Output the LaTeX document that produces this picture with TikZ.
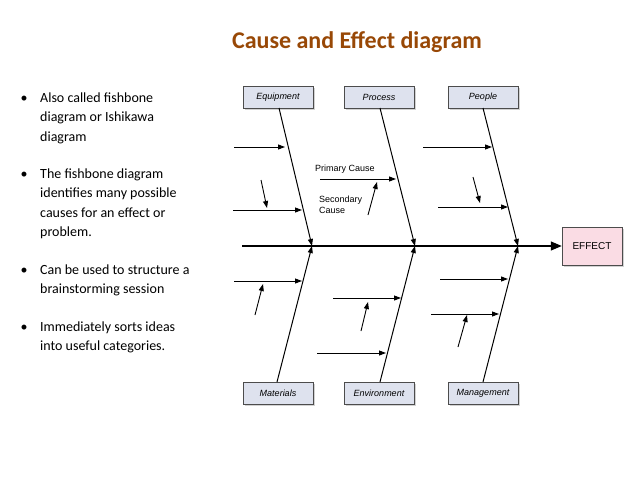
\documentclass[tikz,border=0pt]{standalone}
\usepackage{fontspec}
\setmainfont{Carlito}
\newfontfamily\lab{Liberation Sans}
\usetikzlibrary{arrows.meta,shadows}
\definecolor{ttl}{RGB}{152,72,6}
\definecolor{boxf}{RGB}{222,226,238}
\definecolor{efff}{RGB}{250,220,228}
\tikzset{
 cat/.style={draw=black!70,fill=boxf,minimum width=70pt,minimum height=22pt,inner sep=0pt,font=\lab\itshape\fontsize{9}{10}\selectfont,drop shadow={shadow xshift=1.5pt,shadow yshift=-1.5pt,fill=black!35}},
 bone/.style={line width=1pt,-{Triangle[length=7pt,width=5pt]}},
 sub/.style={line width=0.9pt,-{Triangle[length=7pt,width=5pt]}},
 bul/.style={anchor=base west,font=\fontsize{14}{17}\selectfont,inner sep=0pt}
}
\begin{document}
\begin{tikzpicture}[x=1pt,y=-1pt]
\useasboundingbox (0,0) rectangle (638,479);
\node[font=\bfseries\fontsize{24}{28}\selectfont,text=ttl] (title) at (357,42) {Cause and Effect diagram};
\foreach \yy/\nm in {102/b1,178/b2,274/b3,331/b4}{\node[inner sep=0pt,anchor=base] (\nm) at (24,\yy) {\fontsize{14}{17}\selectfont •};}
\foreach \yy/\tx [count=\i] in {102/{Also called fishbone},121.5/{diagram or Ishikawa},141/diagram,
 178/{The fishbone diagram},197.5/{identifies many possible},217/{causes for an effect or},236/problem.,
 274/{Can be used to structure a},293/{brainstorming session},
 331/{Immediately sorts ideas},350.5/{into useful categories.}}
 {\node[bul] (t\i) at (40,\yy) {\tx};}
% boxes
\node[cat] (eq) at (278,97.5) {Equipment};
\node[cat] (pr) at (379,97.5) {Process};
\node[cat] (pe) at (483,97.5) {People};
\node[cat] (ma) at (278,393.5) {Materials};
\node[cat] (en) at (379,393.5) {Environment};
\node[cat] (mg) at (483,393.5) {Management};
\node[draw=black!70,fill=efff,minimum width=60pt,minimum height=38pt,inner sep=0pt,font=\lab\fontsize{10}{12}\selectfont,drop shadow={shadow xshift=1.5pt,shadow yshift=-1.5pt,fill=black!35}] (ef) at (592,246) {EFFECT};
% spine
\coordinate (s0) at (242,246);
\coordinate (j1) at (312,246); \coordinate (j2) at (415,246); \coordinate (j3) at (518,246);
\draw[line width=1.2pt,-{Triangle[length=11pt,width=9pt]}] (s0) -- (ef.west);
% bones
\coordinate (e0) at (279,108); \coordinate (p0) at (380,108); \coordinate (q0) at (483,108);
\coordinate (m0) at (277,382); \coordinate (n0) at (380,382); \coordinate (g0) at (483,382);
\draw[bone] (e0) -- (j1); \draw[bone] (p0) -- (j2); \draw[bone] (q0) -- (j3);
\draw[bone] (m0) -- (j1); \draw[bone] (n0) -- (j2); \draw[bone] (g0) -- (j3);
% sub causes
\foreach \a/\b in {{234,147}/{285,147},{233,210}/{302,210},{261,180}/{267,208},
 {320,179}/{396,179},{368,215}/{377,182},
 {423,147}/{492,147},{438,207}/{508,207},{473,177}/{480,203},
 {234,281}/{302,281},{255,315}/{263,284},
 {333,298}/{401,298},{361,331}/{368,302},{317,353}/{386,353},
 {440,279}/{508,279},{431,314}/{499,314},{458,347}/{467,315}}
 {\draw[sub] (\a) -- (\b);}
\node[font=\lab\fontsize{9}{10}\selectfont,inner sep=0pt] (pc) at (345,169) {Primary Cause};
\node[font=\lab\fontsize{9}{11.5}\selectfont,align=left,inner sep=0pt,anchor=west] (sc) at (319,205) {Secondary\\Cause};
\end{tikzpicture}
\end{document}
